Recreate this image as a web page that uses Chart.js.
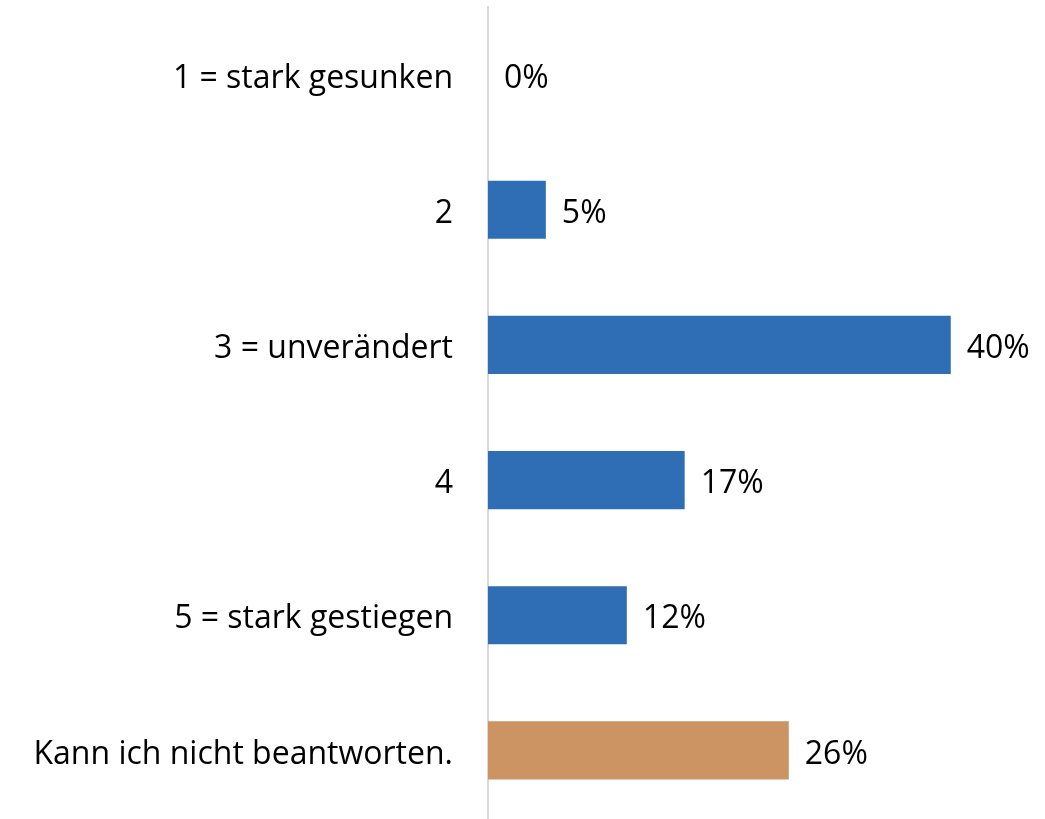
<!DOCTYPE html>
<html>
<head>
<meta charset="utf-8">
<script src="https://cdn.jsdelivr.net/npm/chart.js@4"></script>
<style>
  html, body { margin: 0; padding: 0; background: #fff; }
  #wrap { width: 1045px; height: 819px; }
</style>
</head>
<body>
<div id="wrap"><canvas id="surveyChart" width="1045" height="819"></canvas></div>
<script>
const categories = [
    '1 = stark gesunken',
    '2',
    '3 = unverändert',
    '4',
    '5 = stark gestiegen',
    'Kann ich nicht beantworten.'
];
const shares = [0, 5, 40, 17, 12, 26];
const barColors = ['#2f6eb5', '#2f6eb5', '#2f6eb5', '#2f6eb5', '#2f6eb5', '#cc9463'];

const FONT = 'Open Sans';
const FONT_SIZE = 32;

// draws the "xx%" text to the right of each bar
const valueLabels = {
    id: 'valueLabels',
    afterDatasetsDraw(chart) {
        const ctx = chart.ctx;
        const meta = chart.getDatasetMeta(0);
        ctx.save();
        ctx.font = FONT_SIZE + 'px "' + FONT + '"';
        ctx.fillStyle = '#000';
        ctx.textAlign = 'left';
        ctx.textBaseline = 'middle';
        meta.data.forEach((bar, i) => {
            ctx.fillText(shares[i] + '%', bar.x + 16, bar.y + 4);
        });
        ctx.restore();
    }
};

const ctx = document.getElementById('surveyChart').getContext('2d');
new Chart(ctx, {
    type: 'bar',
    data: {
        labels: categories,
        datasets: [{
            data: shares,
            backgroundColor: barColors,
            borderWidth: 0,
            barPercentage: 0.43,
            categoryPercentage: 1
        }]
    },
    options: {
        indexAxis: 'y',
        responsive: false,
        animation: false,
        layout: { padding: { top: 7, bottom: 1, right: 4, left: 0 } },
        plugins: {
            legend: { display: false },
            tooltip: { enabled: false }
        },
        scales: {
            x: {
                display: false,
                min: 0,
                max: 47.8
            },
            y: {
                grid: { display: false, drawTicks: false },
                border: { color: '#d9d9d9', width: 2 },
                ticks: {
                    color: '#000',
                    padding: 35,
                    labelOffset: 4,
                    font: { family: FONT, size: FONT_SIZE }
                },
                afterFit(scale) {
                    scale.width = 488;
                    scale.paddingTop = 0;
                    scale.paddingBottom = 0;
                }
            }
        }
    },
    plugins: [valueLabels]
});
</script>
</body>
</html>
